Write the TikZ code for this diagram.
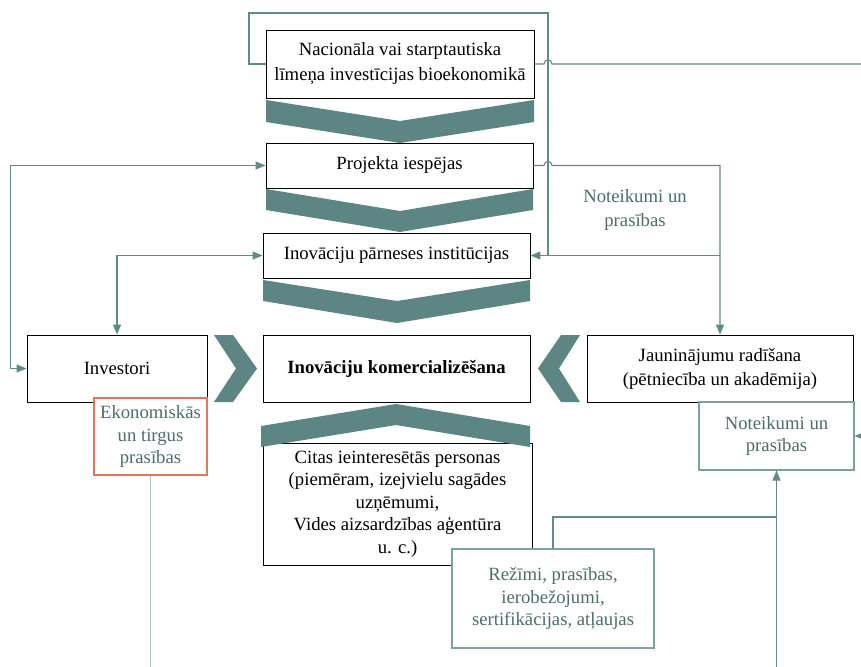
\documentclass[tikz,border=0pt]{standalone}
\usepackage{fontspec}
\setmainfont{Liberation Serif}
\usetikzlibrary{arrows.meta,calc}
\definecolor{chev}{RGB}{92,133,131}
\definecolor{conncol}{RGB}{98,138,138}
\definecolor{tealtext}{RGB}{78,108,108}
\definecolor{ekocol}{RGB}{222,118,96}
\definecolor{lightline}{RGB}{170,195,195}
\definecolor{tealbox}{RGB}{125,160,160}
\begin{document}
\begin{tikzpicture}[x=1pt,y=-1pt,
  every node/.style={font=\fontsize{18.7}{22.5}\selectfont},
  box/.style={draw=black, line width=0.9pt, fill=white, inner sep=0pt, align=center, text=black},
  tbox/.style={draw=tealbox, line width=1.1pt, fill=white, inner sep=0pt, align=center, text=tealtext},
  chevron/.style={fill=chev, draw=none},
  conn/.style={draw=conncol, line width=1.1pt},
  tip/.style={-{Triangle[length=10pt,width=8pt]}},
  tips/.style={{Triangle[length=10pt,width=8pt]}-{Triangle[length=10pt,width=8pt]}}
]
\useasboundingbox (0,0) rectangle (861,666);
\fill[white] (0,0) rectangle (861,666);

% chevrons
\path[chevron] (266,100) -- (400,121) -- (534,100) -- (534,122) -- (400,143) -- (266,122) -- cycle;
\path[chevron] (266,189) -- (400,211) -- (533,189) -- (533,210) -- (400,232) -- (266,210) -- cycle;
\path[chevron] (263,280) -- (397,301) -- (530,280) -- (530,301) -- (397,323) -- (263,301) -- cycle;
\path[chevron] (214,335) -- (233,335) -- (257,368.5) -- (233,402) -- (214,402) -- (236,368.5) -- cycle;
\path[chevron] (580,335) -- (561,335) -- (538,368.5) -- (561,402) -- (580,402) -- (559,368.5) -- cycle;

% main boxes
\node[box, minimum width=268pt, minimum height=68pt, font=\fontsize{18.7}{25}\selectfont] (nat) at (400,64)
  {Nacionāla vai starptautiska\\līmeņa investīcijas bioekonomikā};
\node[box, minimum width=267pt, minimum height=45pt] (proj) at (399.5,165.5) {Projekta iespējas};
\node[box, minimum width=267pt, minimum height=45pt] (tti) at (396.5,255.5) {Inovāciju pārneses institūcijas};
\node[box, minimum width=267pt, minimum height=67pt] (com) at (396.5,368.5) {\bfseries Inovāciju komercializēšana};
\node[box, minimum width=180pt, minimum height=67pt] (inv) at (117,368.5) {Investori};
\node[box, minimum width=266pt, minimum height=67pt, font=\fontsize{18.7}{24}\selectfont] (jau) at (720,368.5)
  {Jauninājumu radīšana\\(pētniecība un akadēmija)};
\node[box, minimum width=269pt, minimum height=122pt] (cit) at (397.5,504)
  {Citas ieinteresētās personas\\(piemēram, izejvielu sagādes\\uzņēmumi,\\Vides aizsardzības aģentūra\\u. c.)};

% up chevron over the stakeholders box
\path[chevron] (261,426) -- (396,404) -- (530,426) -- (530,447) -- (396,425) -- (261,447) -- cycle;

% requirement boxes
\node[tbox, draw=ekocol, minimum width=113pt, minimum height=77pt] (eko) at (150.5,436.5)
  {Ekonomiskās\\un tirgus\\prasības};
\node[tbox, minimum width=155pt, minimum height=68pt, font=\fontsize{18.7}{21.5}\selectfont] (nr) at (776.5,436)
  {Noteikumi un\\prasības};
\node[tbox, minimum width=202pt, minimum height=99pt] (rez) at (553,598.5)
  {Režīmi, prasības,\\ierobežojumi,\\sertifikācijas, atļaujas};
\node[text=tealtext, align=center, font=\fontsize{18.7}{24}\selectfont] (nt) at (635,210) {Noteikumi un\\prasības};

% connectors
\coordinate (j1) at (720,255.5);
\draw[conn, tip] (nat.west) -- (249,64) -- (249,13) -- (548,13) -- (548,255.5) -- (tti.east);
\draw[conn, tip] (proj.east) -- (544,165.5) .. controls (544,160) and (552,160) .. (552,165.5)
  -- (720,165.5) -- (jau.north);
\draw[conn] (j1) -- (548,255.5);
\draw[conn, tip] (nat.east) -- (544,64) .. controls (544,58.5) and (552,58.5) .. (552,64)
  -- (875,64) -- (875,436) -- (nr.east);
\draw[conn, tips] (proj.west) -- ++(-255,0) |- (inv.west);
\draw[conn, tips] (tti.west) -| (inv.north);
\coordinate (j2) at (776.5,517);
\draw[conn] (rez.north) |- (j2);
\draw[conn, tip] (776.5,680) -- (nr.south);
\draw[draw=lightline, line width=1.1pt] (eko.south) -- (150.5,680);
\end{tikzpicture}
\end{document}
